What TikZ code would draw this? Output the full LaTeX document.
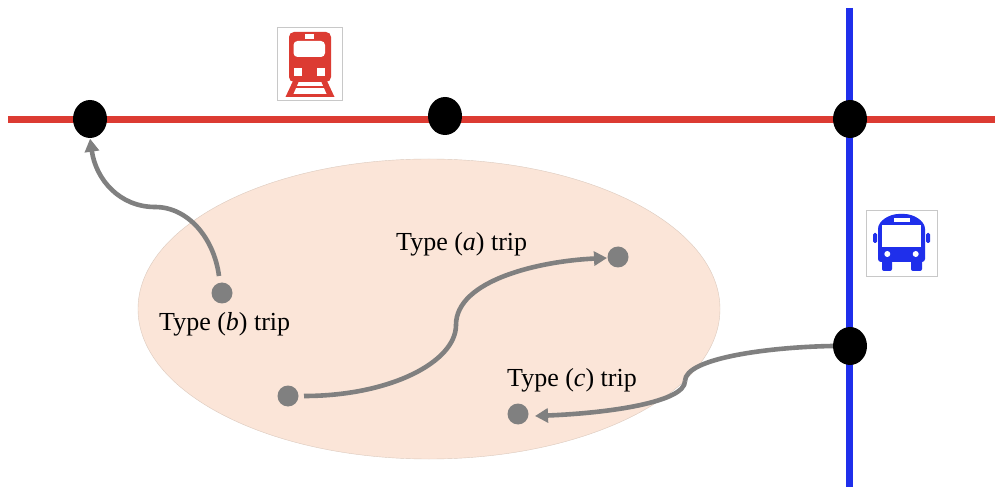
\documentclass[tikz,border=0pt]{standalone}
\usepackage{fontspec}
\setmainfont{Liberation Serif}
\usetikzlibrary{shapes.geometric,arrows.meta}
\definecolor{railred}{HTML}{DC3B32}
\definecolor{busblue}{HTML}{1F2FEB}
\definecolor{tripgray}{HTML}{808080}
\definecolor{zonefill}{HTML}{FBE5D8}
\definecolor{zoneedge}{HTML}{DCCABE}
\definecolor{iconedge}{HTML}{C8C8C8}
\tikzset{
  stopnode/.style={ellipse,fill=black,minimum width=34bp,minimum height=38bp,inner sep=0pt},
  tripdot/.style={circle,fill=tripgray,minimum size=21bp,inner sep=0pt},
  triptext/.style={font=\fontsize{26bp}{30bp}\selectfont,inner sep=0pt,text=black},
  tripline/.style={draw=tripgray,line width=4.6bp,line cap=butt},
  triparrow/.style={tripline,-{Triangle[length=13bp,width=14bp]}},
  iconframe/.style={draw=iconedge,line width=0.8bp,fill=white}
}
\begin{document}
\begin{tikzpicture}[x=1bp,y=-1bp]
\useasboundingbox (0,0) rectangle (995,487);
\fill[white] (0,0) rectangle (995,487);
% zone
\node[ellipse,fill=zonefill,draw=zoneedge,line width=0.4bp,minimum width=582bp,minimum height=300bp,inner sep=0pt] (zone) at (429,309) {};
% lines
\coordinate (redL) at (8,119.5);
\coordinate (redR) at (995,119.5);
\coordinate (blueT) at (849.5,8);
\coordinate (blueB) at (849.5,487);
\draw[railred,line width=7bp] (redL) -- (redR);
\draw[busblue,line width=7bp] (blueT) -- (blueB);
% stops
\node[stopnode] (s1) at (90,119) {};
\node[stopnode] (s2) at (445,116) {};
\node[stopnode] (s3) at (850,119) {};
\node[stopnode] (s4) at (850,346) {};
% trip dots
\node[tripdot] (db) at (222,293) {};
\node[tripdot] (da0) at (288,396) {};
\node[tripdot] (da1) at (618,257) {};
\node[tripdot] (dc) at (518,414) {};
% labels
\node[triptext,anchor=base west] (la) at (396,250.5) {Type (\textit{a}) trip};
\node[triptext,anchor=base west] (lb) at (159,330.5) {Type (\textit{b}) trip};
\node[triptext,anchor=base west] (lc) at (507,386.5) {Type (\textit{c}) trip};
% trips
\coordinate (wb) at (155,207);
\coordinate (wa) at (456,325);
\coordinate (wc) at (685,381);
\draw[tripline] (219,276) .. controls (214,238) and (188,207) .. (wb);
\draw[triparrow,shorten >=0.5bp] (wb) .. controls (120,207) and (96,180) .. (s1.south);
\draw[tripline] (304,396) .. controls (390,396) and (456,362) .. (wa);
\draw[triparrow] (wa) .. controls (456,280) and (540,261) .. (607,258);
\draw[tripline] (s4.west) .. controls (770,347) and (685,358) .. (wc);
\draw[triparrow] (wc) .. controls (685,402) and (610,413) .. (535,416);
% train icon
\node[iconframe,minimum width=65bp,minimum height=73.5bp,inner sep=0pt] (trainbox) at (309.7,63.7) {};
\fill[railred,rounded corners=5bp] (289,32) rectangle (331,82);
\fill[white,rounded corners=4bp] (293.5,41) rectangle (325,57);
\fill[white] (304.5,34.5) rectangle (314,39.5);
\fill[white] (294,68) rectangle (302,76);
\fill[white] (317,68) rectangle (324.5,76);
\fill[railred] (293,81) -- (299,81) -- (292,97) -- (285.5,97) -- cycle;
\fill[railred] (321,81) -- (327,81) -- (334.5,97) -- (328,97) -- cycle;
\fill[railred] (296,86) rectangle (324,88.5);
\fill[railred] (291,94) rectangle (329,97);
% bus icon
\node[iconframe,minimum width=71bp,minimum height=66bp,inner sep=0pt] (busbox) at (901.5,243) {};
\fill[busblue,rounded corners=3bp] (878,262) -- (878,232) to[out=90,in=180] (901.5,214) to[out=0,in=90] (925,232) -- (925,262) -- cycle;
\fill[busblue,rounded corners=2bp] (882,258) rectangle (892,271);
\fill[busblue,rounded corners=2bp] (911,258) rectangle (922,271);
\fill[busblue,rounded corners=1.5bp] (873,233) rectangle (877,243);
\fill[busblue,rounded corners=1.5bp] (926,233) rectangle (930,243);
\fill[white] (882,225) rectangle (921,247);
\fill[white] (893.5,218) rectangle (909.5,222);
\fill[white] (887.3,254) circle (3bp);
\fill[white] (915.7,254) circle (3bp);
\end{tikzpicture}
\end{document}
